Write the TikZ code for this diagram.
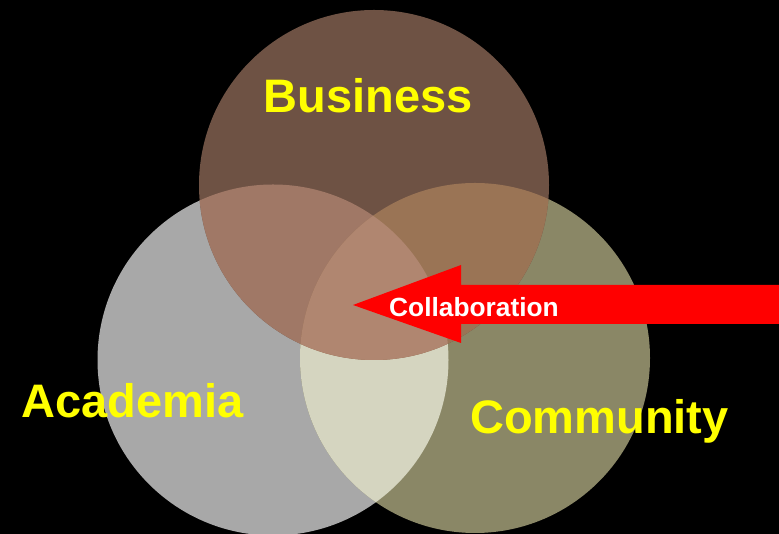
\documentclass[tikz,border=0pt]{standalone}
\usepackage{fontspec}
\setmainfont{Liberation Sans}
\definecolor{bus}{RGB}{110,82,68}
\definecolor{aca}{RGB}{168,168,168}
\definecolor{com}{RGB}{138,135,102}
\definecolor{ba}{RGB}{160,120,102}
\definecolor{bc}{RGB}{154,116,85}
\definecolor{ac}{RGB}{213,213,192}
\definecolor{abc}{RGB}{176,134,112}
\definecolor{lbl}{RGB}{255,255,0}
\begin{document}
\begin{tikzpicture}[x=1pt,y=1pt,
  lab/.style={font=\bfseries\fontsize{47}{47}\selectfont, text=lbl, inner sep=0pt},
  arrowlab/.style={font=\bfseries\fontsize{26.3}{26.3}\selectfont, text=white, inner sep=0pt}]
\useasboundingbox (0,0) rectangle (779,534);
\fill[black] (0,0) rectangle (779,534);
\def\B{(374,349) circle (175)}
\def\A{(273,174) circle (175.5)}
\def\C{(475,176) circle (175)}
\begin{scope}
\clip (0,0) rectangle (779,534);
\fill[aca] \A;
\fill[com] \C;
\fill[bus] \B;
\begin{scope}\clip \A; \fill[ac] \C; \end{scope}
\begin{scope}\clip \A; \fill[ba] \B; \end{scope}
\begin{scope}\clip \C; \fill[bc] \B; \end{scope}
\begin{scope}\clip \A; \clip \C; \fill[abc] \B; \end{scope}
\end{scope}
\node[lab, anchor=base] (business) at (368,421) {Business};
\node[lab, anchor=base west] (academia) at (21,116) {Academia};
\node[lab, anchor=base west] (community) at (470,100) {Community};
\coordinate (tip) at (353,229);
\fill[red] (tip) -- (461,269) -- (461,249) -- (779,249) -- (779,210) -- (461,210) -- (461,191) -- cycle;
\node[arrowlab, anchor=base west] (collab) at (389,217) {Collaboration};
\end{tikzpicture}
\end{document}
